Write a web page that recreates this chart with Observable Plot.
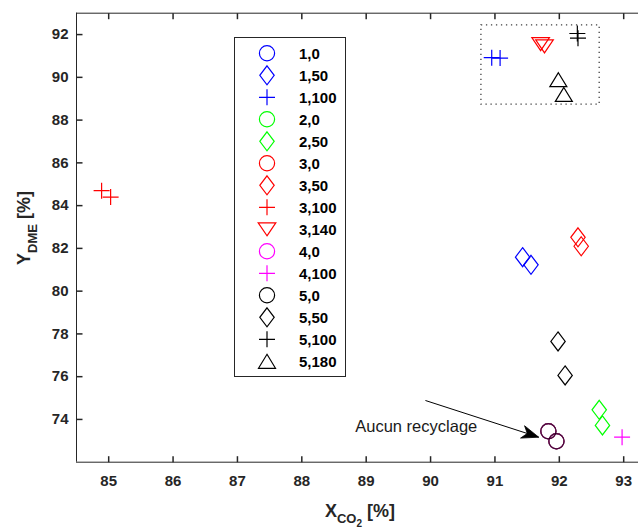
<!DOCTYPE html>
<html>
<head>
<meta charset="utf-8">
<script src="https://cdn.jsdelivr.net/npm/d3@7"></script>
<script src="https://cdn.jsdelivr.net/npm/@observablehq/plot@0.6"></script>
<style>
  html, body { margin: 0; padding: 0; background: white; overflow: hidden; }
</style>
</head>
<body>
<div id="chart"></div>
<script>
// ---------- data ----------
const seriesNames = ["1,0","1,50","1,100","2,0","2,50","3,0","3,50","3,100","3,140","4,0","4,100","5,0","5,50","5,100","5,180"];
const pointSeries = [
  "1,0","1,0",
  "2,0","2,0",
  "3,0","3,0",
  "4,0","4,0",
  "5,0","5,0",
  "1,50","1,50",
  "1,100","1,100",
  "2,50","2,50",
  "3,50","3,50",
  "3,100","3,100",
  "3,140","3,140",
  "4,100",
  "5,50","5,50",
  "5,100","5,100",
  "5,180","5,180"
];
const pointX = [
  91.83, 91.955,
  91.83, 91.955,
  91.83, 91.955,
  91.83, 91.955,
  91.83, 91.955,
  91.43, 91.56,
  90.95, 91.08,
  92.62, 92.67,
  92.29, 92.34,
  84.89, 85.03,
  91.71, 91.77,
  92.975,
  91.98, 92.09,
  92.28, 92.29,
  91.985, 92.07
];
const pointY = [
  73.45, 72.98,
  73.45, 72.98,
  73.45, 72.98,
  73.45, 72.98,
  73.45, 72.98,
  81.59, 81.23,
  90.92, 90.90,
  74.45, 73.72,
  82.52, 82.10,
  84.70, 84.40,
  91.55, 91.45,
  73.17,
  77.65, 76.06,
  92.05, 91.83,
  89.89, 89.20
];
const xTicks = [85, 86, 87, 88, 89, 90, 91, 92, 93];
const yTicks = [74, 76, 78, 80, 82, 84, 86, 88, 90, 92];
const xDomain = [84.5, 93.23];
const yDomain = [72, 93];
const zoomBoxX = [90.79, 92.627];
const zoomBoxY = [88.72, 92.43];
const annotationText = ["Aucun recyclage"];
const annotationX = [88.83];
const annotationY = [73.64];
const arrowFrom = [89.92, 74.886];
const arrowTo = [91.68, 73.17];

// ---------- styles ----------
const seriesColor = {
  "1": "#0000ff", "2": "#00ff00", "3": "#ff0000", "4": "#ff00ff", "5": "#000000"
};
const seriesShape = { "0": "circle", "50": "diamond", "100": "plus", "140": "triDown", "180": "triUp" };

const shapes = {
  circle: { draw(c) { c.moveTo(7.6, 0); c.arc(0, 0, 7.6, 0, 2 * Math.PI); c.closePath(); } },
  diamond: { draw(c) { c.moveTo(0, -9.5); c.lineTo(7.2, 0); c.lineTo(0, 9.5); c.lineTo(-7.2, 0); c.closePath(); } },
  plus: { draw(c) { c.moveTo(-8, 0); c.lineTo(8, 0); c.moveTo(0, -8); c.lineTo(0, 8); } },
  triUp: { draw(c) { c.moveTo(0, -7); c.lineTo(8.5, 7); c.lineTo(-8.5, 7); c.closePath(); } },
  triDown: { draw(c) { c.moveTo(0, 6.5); c.lineTo(8.8, -6.5); c.lineTo(-8.8, -6.5); c.closePath(); } }
};
const tickUp = { draw(c) { c.moveTo(0, 0); c.lineTo(0, -6); } };
const tickDown = { draw(c) { c.moveTo(0, 0); c.lineTo(0, 6); } };
const tickRight = { draw(c) { c.moveTo(0, 0); c.lineTo(6, 0); } };
const arrowAngle = 18 * Math.PI / 180;
const arrowHead = { draw(c) {
  const L = 17, W = 6.5, N = 12;
  const ux = Math.cos(arrowAngle), uy = Math.sin(arrowAngle);
  const nx = -uy, ny = ux;
  c.moveTo(0, 0);
  c.lineTo(-L * ux + W * nx, -L * uy + W * ny);
  c.lineTo(-N * ux, -N * uy);
  c.lineTo(-L * ux - W * nx, -L * uy - W * ny);
  c.closePath();
} };

const colorOf = s => seriesColor[s.split(",")[0]];
const shapeOf = s => shapes[seriesShape[s.split(",")[1]]];

const points = pointSeries.map((s, i) => ({ s, x: pointX[i], y: pointY[i] }));
const axisColor = "#262626";

const dotMarks = seriesNames.map(s => Plot.dot(points.filter(p => p.s === s), {
  x: "x", y: "y", r: 8, symbol: shapeOf(s), fill: "none", stroke: colorOf(s),
  strokeWidth: 1.2, strokeOpacity: s.endsWith(",0") ? 0.7 : 1
}));

const plot = Plot.plot({
  width: 638,
  height: 531,
  marginLeft: 76,
  marginRight: 0,
  marginTop: 12.7,
  marginBottom: 69.3,
  style: {
    fontFamily: "'Liberation Sans', Arial, Helvetica, sans-serif",
    fontSize: "15px",
    fontWeight: "bold",
    color: axisColor,
    background: "white",
    overflow: "visible"
  },
  x: { domain: xDomain },
  y: { domain: yDomain },
  marks: [
    Plot.ruleY([yDomain[0], yDomain[1]], { stroke: axisColor, strokeWidth: 1 }),
    Plot.ruleX([xDomain[0]], { stroke: axisColor, strokeWidth: 1 }),
    Plot.dot(xTicks, { x: d => d, y: yDomain[0], symbol: tickUp, r: 1, fill: "none", stroke: axisColor }),
    Plot.dot(xTicks, { x: d => d, y: yDomain[1], symbol: tickDown, r: 1, fill: "none", stroke: axisColor }),
    Plot.dot(yTicks, { y: d => d, x: xDomain[0], symbol: tickRight, r: 1, fill: "none", stroke: axisColor }),
    Plot.axisX(xTicks, { anchor: "bottom", tickSize: 0, tickPadding: 13, label: null, fill: axisColor }),
    Plot.axisY(yTicks, { anchor: "left", tickSize: 0, tickPadding: 8, label: null, fill: axisColor }),
    Plot.rect([0], {
      x1: () => zoomBoxX[0], x2: () => zoomBoxX[1], y1: () => zoomBoxY[0], y2: () => zoomBoxY[1],
      fill: "none", stroke: "#404040", strokeWidth: 1.3, strokeDasharray: "1.3,3.7"
    }),
    ...dotMarks,
    Plot.link([0], {
      x1: () => arrowFrom[0], y1: () => arrowFrom[1], x2: () => arrowTo[0], y2: () => arrowTo[1],
      stroke: "black", strokeWidth: 1
    }),
    Plot.dot([0], { x: () => arrowTo[0], y: () => arrowTo[1], symbol: arrowHead, r: 1, fill: "black", stroke: "black", strokeWidth: 0.8 }),
    Plot.text(annotationText, {
      x: (d, i) => annotationX[i], y: (d, i) => annotationY[i], text: d => d,
      textAnchor: "start", lineAnchor: "middle", fontSize: 16.5, fontWeight: "normal", fill: "#1a1a1a"
    })
  ]
});

// ---------- axis labels & legend ----------
const svg = d3.select(plot);

const xl = svg.append("text")
  .attr("x", 360).attr("y", 517)
  .attr("text-anchor", "middle")
  .style("font-size", "18px").style("font-weight", "bold").attr("fill", axisColor);
xl.append("tspan").text("X");
xl.append("tspan").attr("dy", 6).style("font-size", "13px").text("CO");
xl.append("tspan").attr("dy", 4).style("font-size", "10px").text("2");
xl.append("tspan").attr("dy", -10).style("font-size", "18px").text(" [%]");

const yl = svg.append("text")
  .attr("transform", "translate(30,228) rotate(-90)")
  .attr("text-anchor", "middle")
  .style("font-size", "18px").style("font-weight", "bold").attr("fill", axisColor);
yl.append("tspan").text("Y");
yl.append("tspan").attr("dy", 7).style("font-size", "13px").text("DME");
yl.append("tspan").attr("dy", -7).style("font-size", "18px").text(" [%]");

const lg = svg.append("g").attr("text-anchor", "start");
lg.append("rect")
  .attr("x", 234.5).attr("y", 37.5).attr("width", 111).attr("height", 339)
  .attr("fill", "white").attr("stroke", axisColor).attr("stroke-width", 1);
seriesNames.forEach((s, i) => {
  const cy = 53.3 + 22.0 * i;
  lg.append("path")
    .attr("transform", `translate(267,${cy})`)
    .attr("d", d3.symbol().type(shapeOf(s)).size(64)())
    .attr("fill", "none").attr("stroke", colorOf(s)).attr("stroke-width", 1.2);
  lg.append("text")
    .attr("x", 299).attr("y", cy).attr("dy", "0.36em")
    .attr("text-anchor", "start")
    .style("font-size", "15px").style("font-weight", "bold").attr("fill", "#000")
    .text(s);
});

document.getElementById("chart").appendChild(plot);
</script>
</body>
</html>
